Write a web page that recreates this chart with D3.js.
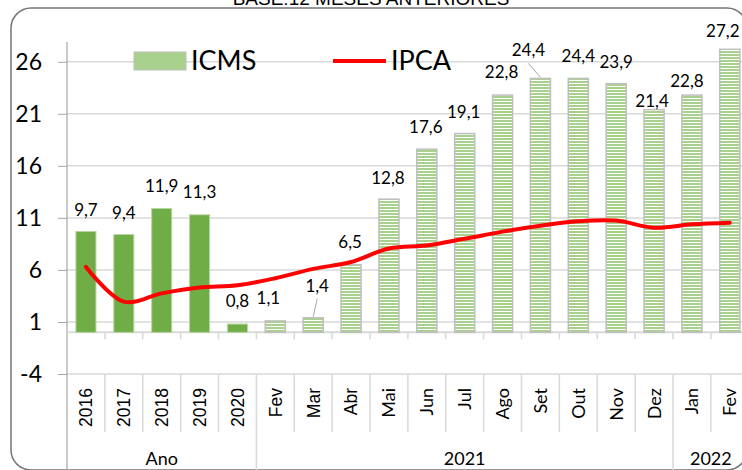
<!DOCTYPE html>
<html><head><meta charset="utf-8">
<script src="https://cdn.jsdelivr.net/npm/d3@7"></script>
<style>body{margin:0;background:#fff;overflow:hidden} svg{display:block}</style>
</head><body><svg id="c" width="742" height="470"></svg>
<script>
const categories = ["2016","2017","2018","2019","2020","Fev","Mar","Abr","Mai","Jun","Jul","Ago","Set","Out","Nov","Dez","Jan","Fev"];
const groupNames = ["Ano","2021","2022"];
const groupSizes = [5, 11, 2];
const icms = [9.7, 9.4, 11.9, 11.3, 0.8, 1.1, 1.4, 6.5, 12.8, 17.6, 19.1, 22.8, 24.4, 24.4, 23.9, 21.4, 22.8, 27.2];
const ipca = [6.29, 2.95, 3.75, 4.31, 4.52, 5.20, 6.10, 6.76, 8.06, 8.35, 8.99, 9.68, 10.25, 10.67, 10.74, 10.06, 10.38, 10.54];
const solidCount = 5;
const yTicks = [-4, 1, 6, 11, 16, 21, 26];
const labelDx = [0,0,0,0,0,-7,4,-1,-1,-1,-1,-1,-12,0,0,-2,-5,-7];
const labelDy = [-15,-16,-16.5,-17,-17,-17,-26,-17,-15,-16,-16,-17,-22,-16,-16,-3,-8,-12];
const leaderIdx = [6, 12];

(function(){
const svg = d3.select("#c");
const W = 742, H = 470;
const pLeft = 67, pRight = 748.75, pTop = 42, pBottom = 374;

const x = d3.scaleBand().domain(d3.range(categories.length)).range([pLeft, pRight]).paddingInner(0.47).paddingOuter(0.235);
const y = d3.scaleLinear().domain([-4, 27.9]).range([pBottom, pTop]);
const step = x.step();
const fmt = v => d3.format(".1f")(v).replace(".", ",");

// pattern
const defs = svg.append("defs");
const pat = defs.append("pattern").attr("id","stripes").attr("patternUnits","userSpaceOnUse").attr("width",6).attr("height",3);
pat.append("rect").attr("width",6).attr("height",3).attr("fill","#ffffff");
pat.append("rect").attr("width",6).attr("height",2).attr("fill","#a9d18e");

// title (partly above the top edge, as in the reference)
svg.append("text").attr("x",371).attr("y",5).attr("text-anchor","middle")
  .attr("font-family","Liberation Sans, Arial, sans-serif").attr("font-size",19).attr("fill","#000")
  .text("BASE:12 MESES ANTERIORES");

// border
svg.append("rect").attr("x",11).attr("y",8).attr("width",736).attr("height",462).attr("rx",20)
  .attr("fill","none").attr("stroke","#767676").attr("stroke-width",1.5);

// gridlines
svg.append("g").selectAll("line").data(yTicks).join("line")
  .attr("x1",pLeft).attr("x2",W).attr("y1",d=>y(d)).attr("y2",d=>y(d))
  .attr("stroke","#d9d9d9").attr("stroke-width",1.5);

// y axis
const yAxis = d3.axisLeft(y).tickValues(yTicks).tickSize(9).tickFormat(d=>d);
const gy = svg.append("g").attr("transform",`translate(${pLeft},0)`).call(yAxis);
gy.select(".domain").remove();
gy.selectAll(".tick line").attr("stroke","#a6a6a6").attr("stroke-width",1);
gy.selectAll(".tick text").attr("x",-25).attr("font-family","Lato, sans-serif").attr("font-size",23).attr("fill","#000");
svg.append("line").attr("x1",pLeft).attr("x2",pLeft).attr("y1",pTop).attr("y2",H).attr("stroke","#a6a6a6").attr("stroke-width",1.2);

// category zero axis with ticks
svg.append("line").attr("x1",pLeft).attr("x2",W).attr("y1",y(0)).attr("y2",y(0)).attr("stroke","#d9d9d9").attr("stroke-width",2);
const bounds = d3.range(categories.length + 1).map(i => pLeft + i * step);
svg.append("g").selectAll("line").data(bounds.slice(1)).join("line")
  .attr("x1",d=>d).attr("x2",d=>d).attr("y1",y(0)).attr("y2",y(0)+7)
  .attr("stroke","#d9d9d9").attr("stroke-width",1.5);

// label dividers
const groupStarts = groupSizes.reduce((a,s)=>{a.push(a[a.length-1]+s);return a;},[0]);
svg.append("g").selectAll("line").data(d3.range(1, categories.length + 1)).join("line")
  .attr("x1",i=>pLeft+i*step).attr("x2",i=>pLeft+i*step)
  .attr("y1",pBottom).attr("y2",i=>groupStarts.includes(i)?H:432)
  .attr("stroke","#d9d9d9").attr("stroke-width",1.5);

// bars
svg.append("g").selectAll("rect").data(icms).join("rect")
  .attr("x",(d,i)=>x(i)).attr("width",x.bandwidth())
  .attr("y",d=>y(d)).attr("height",d=>y(0)-y(d))
  .attr("fill",(d,i)=>i<solidCount?"#70ad47":"url(#stripes)")
  .attr("stroke",(d,i)=>i<solidCount?"#b9d6a3":"#bfbfbf")
  .attr("stroke-width",(d,i)=>i<solidCount?1:1.5);

// IPCA line
const line = d3.line().x((d,i)=>x(i)+x.bandwidth()/2).y(d=>y(d)).curve(d3.curveCatmullRom.alpha(0.5));
svg.append("path").datum(ipca).attr("d",line).attr("fill","none").attr("stroke","#ff0000")
  .attr("stroke-width",4).attr("stroke-linecap","round").attr("stroke-linejoin","round");

// data labels
const lbl = svg.append("g");
icms.forEach((v,i)=>{
  const cx = x(i)+x.bandwidth()/2 + labelDx[i];
  const by = y(v) + labelDy[i];
  lbl.append("text").attr("x",cx).attr("y",by).attr("text-anchor","middle")
    .attr("font-family","Lato, sans-serif").attr("font-size",17).attr("fill","#000").text(fmt(v));
  if (leaderIdx.includes(i)) {
    lbl.append("line").attr("x1",cx).attr("y1",by+7).attr("x2",x(i)+x.bandwidth()/2).attr("y2",y(v)-1)
      .attr("stroke","#a6a6a6").attr("stroke-width",1);
  }
});

// category labels
svg.append("g").selectAll("text").data(categories).join("text")
  .attr("transform",(d,i)=>`translate(${x(i)+x.bandwidth()/2},388) rotate(-90)`)
  .attr("dy","0.36em").attr("text-anchor","end")
  .attr("font-family",(d,i)=>i<8?"Liberation Sans, Arial, sans-serif":"Lato, sans-serif")
  .attr("font-size",(d,i)=>i<8?17.5:18).attr("fill","#000").text(d=>d);

// group labels
svg.append("g").selectAll("text").data(groupNames).join("text")
  .attr("x",(d,i)=>pLeft + (groupStarts[i]+groupSizes[i]/2)*step).attr("y",465)
  .attr("text-anchor","middle").attr("font-family","Lato, sans-serif").attr("font-size",18).attr("fill","#000").text(d=>d);

// legend
const lg = svg.append("g");
lg.append("rect").attr("x",134).attr("y",52).attr("width",52).attr("height",18).attr("fill","#a9d18e").attr("stroke","#bfbfbf");
lg.append("text").attr("x",191).attr("y",70).attr("font-family","Lato, sans-serif").attr("font-size",27).attr("fill","#000").text("ICMS");
lg.append("line").attr("x1",333).attr("x2",386).attr("y1",61).attr("y2",61).attr("stroke","#ff0000").attr("stroke-width",4);
lg.append("text").attr("x",391).attr("y",70).attr("font-family","Lato, sans-serif").attr("font-size",27).attr("fill","#000").text("IPCA");
})();
</script></body></html>
